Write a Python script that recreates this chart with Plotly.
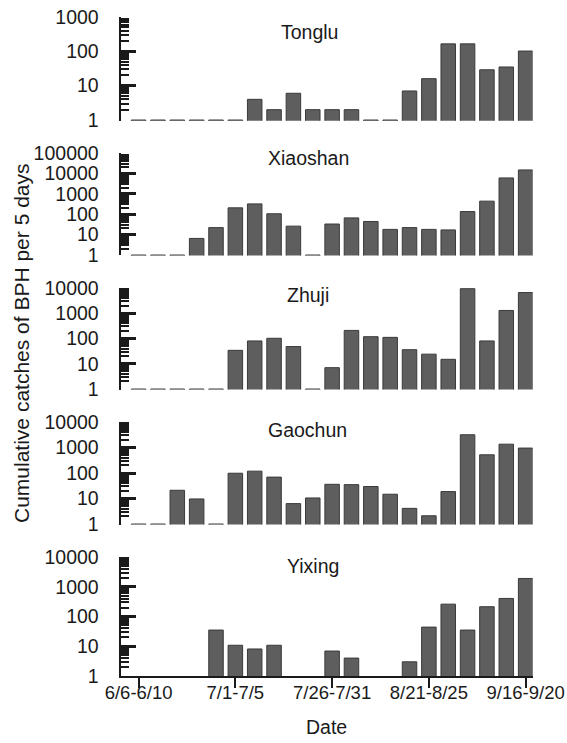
import plotly.graph_objects as go

W, H = 567, 743

categories = ["6/6-6/10", "6/11-6/15", "6/16-6/20", "6/21-6/25", "6/26-6/30",
              "7/1-7/5", "7/6-7/10", "7/11-7/15", "7/16-7/20", "7/21-7/25",
              "7/26-7/31", "8/1-8/5", "8/6-8/10", "8/11-8/15", "8/16-8/20",
              "8/21-8/25", "8/26-8/31", "9/1-9/5", "9/6-9/10", "9/11-9/15",
              "9/16-9/20"]
tick_labels = ["6/6-6/10", "7/1-7/5", "7/26-7/31", "8/21-8/25", "9/16-9/20"]

sites = ["Tonglu", "Xiaoshan", "Zhuji", "Gaochun", "Yixing"]

tonglu = [1, 1, 1, 1, 1, 1, 4, 2, 6, 2, 2, 2, 1, 1, 7, 16, 165, 165, 29, 35, 102]
xiaoshan = [1, 1, 1, 6.5, 22, 205, 320, 105, 26, 1, 33, 66, 44, 18, 22, 18, 17,
            135, 436, 6000, 14800]
zhuji = [1, 1, 1, 1, 1, 34, 80, 102, 48, 1, 7, 209, 118, 111, 36, 24, 15,
         9400, 80, 1290, 6600]
gaochun = [1, 1, 21, 9.6, 1, 98, 118, 69, 6.3, 10.5, 36, 35, 29.5, 14.7, 4.1,
           2.1, 18.7, 3160, 517, 1350, 950]
yixing = [None, None, None, None, 35, 10.8, 8.1, 10.8, None, None, 6.9, 4.0,
          None, None, 3.0, 44, 260, 35, 213, 405, 1900]

series = [tonglu, xiaoshan, zhuji, gaochun, yixing]
top_exp = [3, 5, 4, 4, 4]

# layout in pixels: (y of top decade, y of value 1)
panel_px = [(17, 120), (153, 255), (288, 389), (422, 524), (557, 676)]
title_px = [(309, 32), (308, 158), (308, 295), (307, 430), (313, 566)]
eps = [0.02, 0.02, 0.02, 0.02, 0.0]

x_left, x_right = 120.6, 532.6
FONT = "Liberation Sans, Arial, sans-serif"
FS = 19.5
INK = "#1a1a1a"

fig = go.Figure()

for i, (name, vals) in enumerate(zip(sites, series)):
    n = i + 1
    xa = "x" if n == 1 else f"x{n}"
    ya = "y" if n == 1 else f"y{n}"
    fig.add_trace(go.Bar(
        x=categories, y=vals, xaxis=xa, yaxis=ya, width=0.75,
        marker=dict(color="#5e5e5e", line=dict(color="#3a3a3a", width=1)),
        showlegend=False, hoverinfo="x+y", name=name))

    ptop, p1 = panel_px[i]
    ppd = (p1 - ptop) / top_exp[i]
    pbot = p1 + eps[i] * ppd
    dom_y = [1 - pbot / H, 1 - ptop / H]
    last = (n == 5)

    major = [10 ** k for k in range(top_exp[i] + 1)]
    minor = [m * 10 ** k for k in range(top_exp[i]) for m in range(2, 10)]

    fig.layout[f"xaxis{'' if n == 1 else n}"] = dict(
        domain=[x_left / W, x_right / W], anchor=ya, automargin=False,
        type="category", categoryorder="array", categoryarray=categories,
        range=[-0.93, 20.36],
        showline=last, linecolor=INK, linewidth=2,
        ticks="outside" if last else "", ticklen=10, tickwidth=2,
        tickcolor=INK,
        tickmode="array", tickvals=tick_labels if last else [],
        ticktext=tick_labels if last else [],
        ticklabelstandoff=-11, ticklabeloverflow="allow",
        showticklabels=last, showgrid=False, zeroline=False,
        tickfont=dict(family=FONT, size=18.5, color=INK),
    )
    fig.layout[f"yaxis{'' if n == 1 else n}"] = dict(
        domain=dom_y, anchor=xa, type="log", automargin=False,
        range=[-eps[i], top_exp[i]],
        showline=True, linecolor=INK, linewidth=2,
        ticks="inside", ticklen=15, tickwidth=2.5, tickcolor=INK,
        tickmode="array", tickvals=major, ticktext=[str(v) for v in major],
        ticklabelstandoff=16, ticklabeloverflow="allow",
        minor=dict(tickmode="array", tickvals=minor, ticks="inside",
                   ticklen=8, tickwidth=1.5, tickcolor=INK, showgrid=False),
        showgrid=False, zeroline=False,
        tickfont=dict(family=FONT, size=FS, color=INK),
    )
    tx, ty = title_px[i]
    fig.add_annotation(x=tx / W, y=1 - ty / H,
                       xref="paper", yref="paper",
                       text=name, showarrow=False, xanchor="center",
                       yanchor="middle",
                       font=dict(family=FONT, size=FS, color=INK))

fig.add_annotation(x=(x_left + x_right) / 2 / W, y=1 - 727 / H,
                   xref="paper", yref="paper", text="Date", showarrow=False,
                   xanchor="center", yanchor="middle",
                   font=dict(family=FONT, size=FS, color=INK))

fig.add_annotation(x=21 / W, y=1 - 343 / H,
                   xref="paper", yref="paper",
                   text="Cumulative catches of BPH per 5 days", textangle=-90,
                   showarrow=False, xanchor="center", yanchor="middle",
                   font=dict(family=FONT, size=21, color=INK))

fig.update_layout(width=W, height=H, margin=dict(l=0, r=0, t=0, b=0),
                  paper_bgcolor="white", plot_bgcolor="white", bargap=0.25)

# remove the default page margin so the 567x743 figure fills the window
fig.write_html("out.html", config={"displayModeBar": False},
               post_script="document.body.style.margin='0';"
                           "document.body.style.overflow='hidden';")
